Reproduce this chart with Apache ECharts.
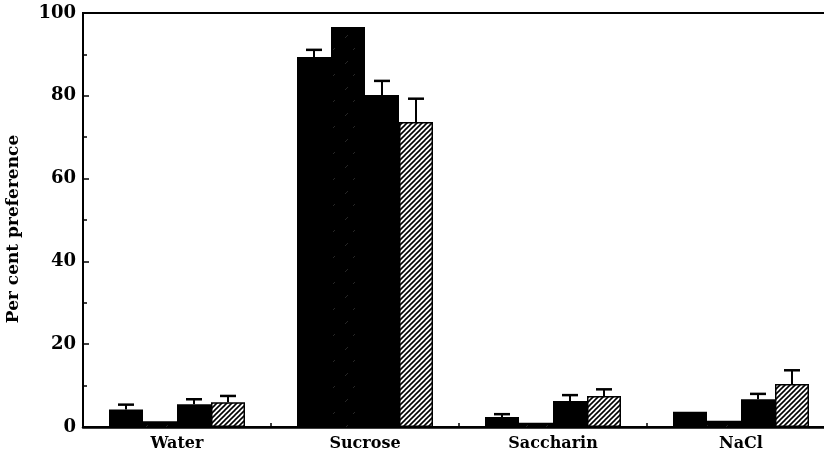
<!DOCTYPE html>
<html><head><meta charset="utf-8">
<script src="https://cdn.jsdelivr.net/npm/echarts@6/dist/echarts.min.js"></script>
<style>html,body{margin:0;padding:0;background:#fff}#c{width:824px;height:461px}</style>
</head><body><div id="c"></div>
<script>
const categories = ['Water', 'Sucrose', 'Saccharin', 'NaCl'];
const yTicks = [0, 20, 40, 60, 80, 100];
const seriesA = [4.2, 89.4, 2.4, 3.7];
const seriesB = [1.4, 96.6, 1.0, 1.5];
const seriesC = [5.5, 80.2, 6.3, 6.7];
const seriesD = [6.0, 73.7, 7.5, 10.4];
const errA = [1.2, 1.7, 0.7, 0];
const errB = [0, 0, 0, 0];
const errC = [1.2, 3.4, 1.4, 1.3];
const errD = [1.5, 5.6, 1.6, 3.3];

function hatch(){
  const c = document.createElement('canvas');
  c.width = 5; c.height = 5;
  const g = c.getContext('2d');
  g.fillStyle = '#fff'; g.fillRect(0,0,5,5);
  g.strokeStyle = '#000'; g.lineWidth = 1.6;
  for (let k=-1;k<=1;k++){ g.beginPath(); g.moveTo(k*5-1,6); g.lineTo(k*5+6,-1); g.stroke(); }
  return c;
}
function stipple(){
  const c = document.createElement('canvas');
  c.width = 20; c.height = 26;
  const g = c.getContext('2d');
  g.fillStyle = '#000'; g.fillRect(0,0,20,26);
  g.strokeStyle = 'rgba(255,255,255,0.22)'; g.lineWidth = 0.7;
  g.beginPath(); g.moveTo(5,12); g.lineTo(8,9); g.stroke();
  g.beginPath(); g.moveTo(13,24); g.lineTo(15,22); g.stroke();
  return c;
}

const values = [seriesA, seriesB, seriesC, seriesD];
const errs = [errA, errB, errC, errD];
const colors = ['#000', {image: stipple(), repeat: 'repeat'}, '#000', {image: hatch(), repeat: 'repeat'}];
const BW = 34;

const series = [];
values.forEach((v, i) => {
  series.push({
    type: 'bar', data: v, barWidth: BW, barGap: '0%',
    itemStyle: {color: colors[i], borderColor: '#000', borderWidth: i === 3 ? 1.5 : 0},
    z: 2
  });
});
values.forEach((v, i) => {
  series.push({
    type: 'custom', z: 5,
    data: v.map((val, j) => [j, val, val + errs[i][j]]),
    renderItem: function(params, api){
      const j = api.value(0);
      if (api.value(2) <= api.value(1)) return null;
      const base = api.coord([j, api.value(1)]);
      const top = api.coord([j, api.value(2)]);
      const x = base[0] + (i - 1.5) * BW;
      return {type: 'group', children: [
        {type: 'line', shape: {x1: x, y1: base[1], x2: x, y2: top[1]}, style: {stroke: '#000', lineWidth: 2}},
        {type: 'line', shape: {x1: x - 8, y1: top[1], x2: x + 8, y2: top[1]}, style: {stroke: '#000', lineWidth: 2.5}}
      ]};
    }
  });
});

const chart = echarts.init(document.getElementById('c'));
chart.setOption({
  animation: false,
  grid: {left: 83, width: 752, top: 13, bottom: 34, show: true, borderColor: '#000', borderWidth: 2,
         outerBoundsMode: 'none', containLabel: false},
  xAxis: {
    type: 'category', data: categories,
    axisLine: {lineStyle: {color: '#000', width: 2.5}},
    axisTick: {show: true, inside: true, length: 4, lineStyle: {color: '#000', width: 1.5}},
    axisLabel: {color: '#000', fontFamily: 'DejaVu Serif', fontWeight: 'bold', fontSize: 16, margin: 9}
  },
  yAxis: {
    type: 'value', min: yTicks[0], max: yTicks[yTicks.length - 1], interval: 20,
    name: 'Per cent preference', nameLocation: 'middle', nameGap: 61, nameRotate: 90,
    nameTextStyle: {color: '#000', fontFamily: 'DejaVu Serif', fontWeight: 'bold', fontSize: 17, padding: [0, 18, 0, 0]},
    axisLine: {show: true, lineStyle: {color: '#000', width: 2}},
    axisTick: {show: true, inside: true, length: 6, lineStyle: {color: '#000', width: 1.5}},
    minorTick: {show: true, splitNumber: 2, length: 4, lineStyle: {color: '#000', width: 1.5}},
    splitLine: {show: false},
    axisLabel: {color: '#000', fontFamily: 'DejaVu Serif', fontWeight: 'bold', fontSize: 18, margin: 7}
  },
  series: series
});
</script></body></html>
